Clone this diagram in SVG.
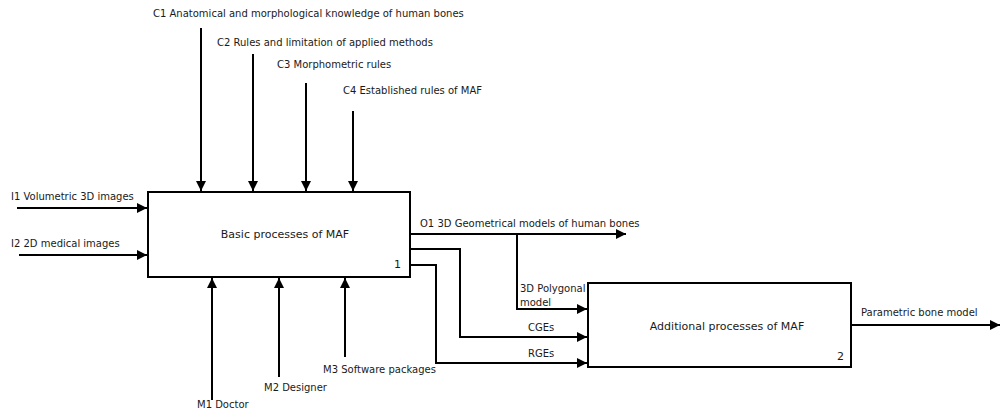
<svg xmlns="http://www.w3.org/2000/svg" width="1000" height="412" viewBox="0 0 1000 412">
  <style>
    .box { fill: #ffffff; stroke: #000000; stroke-width: 2; }
    .ln { fill: none; stroke: #000000; stroke-width: 2; }
    text { font-family: "DejaVu Sans", Verdana, sans-serif; font-size: 10px; fill: #1a1a1a; }
    .mid { text-anchor: middle; font-size: 11px; }
  </style>
  <defs>
    <marker id="arrow" viewBox="0 0 10 10" refX="10" refY="5" markerWidth="10" markerHeight="10" markerUnits="userSpaceOnUse" orient="auto">
      <path d="M0,0 L10,5 L0,10 Z" fill="#000000"/>
    </marker>
  </defs>
  <rect width="1000" height="412" fill="#ffffff"/>

  <!-- connectors -->
  <g id="connectors">
    <!-- controls -->
    <line class="ln" x1="201" y1="28" x2="201" y2="191" marker-end="url(#arrow)"/>
    <line class="ln" x1="253" y1="54" x2="253" y2="191" marker-end="url(#arrow)"/>
    <line class="ln" x1="306" y1="83" x2="306" y2="191" marker-end="url(#arrow)"/>
    <line class="ln" x1="353" y1="111" x2="353" y2="191" marker-end="url(#arrow)"/>
    <!-- inputs -->
    <line class="ln" x1="17" y1="208" x2="147" y2="208" marker-end="url(#arrow)"/>
    <line class="ln" x1="19" y1="255" x2="147" y2="255" marker-end="url(#arrow)"/>
    <!-- mechanisms -->
    <line class="ln" x1="212" y1="400" x2="212" y2="278" marker-end="url(#arrow)"/>
    <line class="ln" x1="279" y1="377" x2="279" y2="278" marker-end="url(#arrow)"/>
    <line class="ln" x1="345" y1="357" x2="345" y2="278" marker-end="url(#arrow)"/>
    <!-- outputs of box 1 -->
    <line class="ln" x1="410" y1="234" x2="626" y2="234" marker-end="url(#arrow)"/>
    <polyline class="ln" points="517,234 517,309 587,309" marker-end="url(#arrow)"/>
    <polyline class="ln" points="410,249 460,249 460,337 587,337" marker-end="url(#arrow)"/>
    <polyline class="ln" points="410,265 436,265 436,363 587,363" marker-end="url(#arrow)"/>
    <!-- output of box 2 -->
    <line class="ln" x1="851" y1="325" x2="1000" y2="325" marker-end="url(#arrow)"/>
  </g>

  <!-- activity A1 -->
  <g id="node-basic">
    <rect class="box" x="148" y="192" width="262" height="85"/>
    <text class="mid" x="285" y="238">Basic processes of MAF</text>
    <text x="394" y="268" style="font-size:11px">1</text>
  </g>

  <!-- activity A2 -->
  <g id="node-additional">
    <rect class="box" x="588" y="283" width="263" height="84"/>
    <text class="mid" x="727" y="330">Additional processes of MAF</text>
    <text x="837" y="360" style="font-size:11px">2</text>
  </g>

  <!-- labels -->
  <g id="labels">
    <text x="153" y="17">C1 Anatomical and morphological knowledge of human bones</text>
    <text x="217" y="46">C2 Rules and limitation of applied methods</text>
    <text x="277" y="68">C3 Morphometric rules</text>
    <text x="343" y="94">C4 Established rules of MAF</text>
    <text x="11" y="200">I1 Volumetric 3D images</text>
    <text x="11" y="247">I2 2D medical images</text>
    <text x="197" y="408">M1 Doctor</text>
    <text x="264" y="391">M2 Designer</text>
    <text x="323" y="373">M3 Software packages</text>
    <text x="420" y="227">O1 3D Geometrical models of human bones</text>
    <text x="520" y="292">3D Polygonal</text>
    <text x="520" y="306">model</text>
    <text x="528" y="331">CGEs</text>
    <text x="528" y="357">RGEs</text>
    <text x="861" y="316">Parametric bone model</text>
  </g>
</svg>
